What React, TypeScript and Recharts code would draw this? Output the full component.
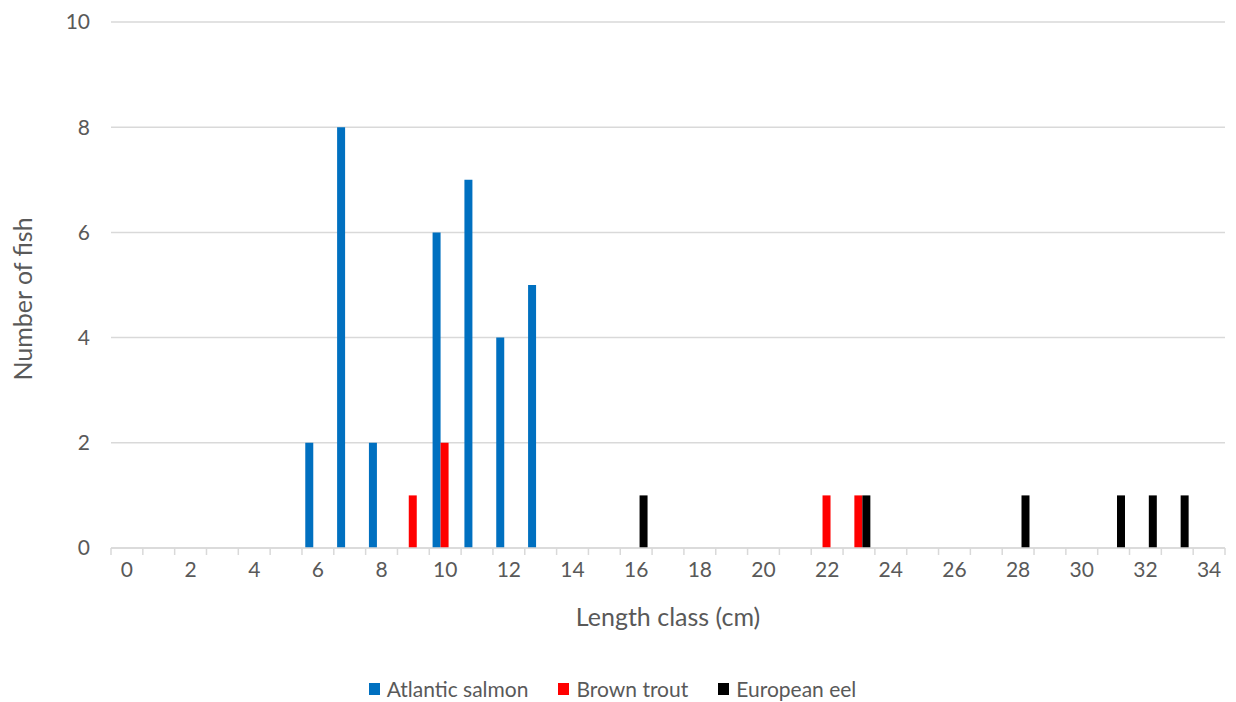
import React from "react";
import {
  BarChart,
  Bar,
  XAxis,
  YAxis,
  CartesianGrid,
  Legend,
} from "recharts";

// length classes (cm) and counts per species
const lengthClasses = [
  0, 1, 2, 3, 4, 5, 6, 7, 8, 9, 10, 11, 12, 13, 14, 15, 16, 17, 18, 19, 20,
  21, 22, 23, 24, 25, 26, 27, 28, 29, 30, 31, 32, 33, 34,
];
const atlanticSalmon = [
  0, 0, 0, 0, 0, 0, 2, 8, 2, 0, 6, 7, 4, 5, 0, 0, 0, 0, 0, 0, 0, 0, 0, 0, 0,
  0, 0, 0, 0, 0, 0, 0, 0, 0, 0,
];
const brownTrout = [
  0, 0, 0, 0, 0, 0, 0, 0, 0, 1, 2, 0, 0, 0, 0, 0, 0, 0, 0, 0, 0, 0, 1, 1, 0,
  0, 0, 0, 0, 0, 0, 0, 0, 0, 0,
];
const europeanEel = [
  0, 0, 0, 0, 0, 0, 0, 0, 0, 0, 0, 0, 0, 0, 0, 0, 1, 0, 0, 0, 0, 0, 0, 1, 0,
  0, 0, 0, 1, 0, 0, 1, 1, 1, 0,
];
const yTicks = [0, 2, 4, 6, 8, 10];

const data = lengthClasses.map((len, i) => ({
  len,
  salmon: atlanticSalmon[i],
  trout: brownTrout[i],
  eel: europeanEel[i],
}));

if (typeof document !== "undefined") document.body.style.margin = "0";

const W = 1236;
const H = 702;
const LEFT = 111;
const RIGHT = 11;
const BAND = (W - LEFT - RIGHT) / lengthClasses.length;
const FONT = "Lato, 'Open Sans', sans-serif";
const GREY = "#595959";
const LINE = "#d9d9d9";

// category axis: tick marks sit on the band edges, labels on every other class
const XTick = (props: any) => {
  const { x, y, index, payload } = props;
  const half = BAND / 2;
  const last = index === lengthClasses.length - 1;
  return (
    <g>
      <line x1={x - half} x2={x - half} y1={y} y2={y + 7} stroke={LINE} strokeWidth={1.5} />
      {last && (
        <line x1={x + half} x2={x + half} y1={y} y2={y + 7} stroke={LINE} strokeWidth={1.5} />
      )}
      {index % 2 === 0 && (
        <text x={x} y={y + 29} textAnchor="middle" fill={GREY} fontSize={21} fontFamily={FONT}>
          {payload.value}
        </text>
      )}
    </g>
  );
};

// y title sits a little below the middle of the plot, like the Excel original
const YTitle = (props: any) => {
  const { viewBox } = props;
  const cx = 22;
  const cy = viewBox.y + viewBox.height / 2 + 14;
  return (
    <text
      x={cx}
      y={cy}
      transform={`rotate(-90 ${cx} ${cy})`}
      textAnchor="middle"
      dominantBaseline="central"
      fill={GREY}
      fontSize={25}
      fontFamily={FONT}
    >
      Number of fish
    </text>
  );
};

const LegendContent = (props: any) => (
  <div
    style={{
      display: "flex",
      justifyContent: "center",
      gap: 30,
      fontFamily: FONT,
      fontSize: 21,
      color: GREY,
      paddingTop: 4,
    }}
  >
    {props.payload.map((item: any) => (
      <div key={item.value} style={{ display: "flex", alignItems: "center", gap: 7 }}>
        <div style={{ width: 11, height: 12, background: item.color }} />
        <span>{item.value}</span>
      </div>
    ))}
  </div>
);

export default function App() {
  return (
    <BarChart
      width={W}
      height={H}
      data={data}
      margin={{ top: 22, right: RIGHT, left: 0, bottom: 0 }}
      barCategoryGap={3.3}
      barGap={0}
    >
      <CartesianGrid vertical={false} stroke={LINE} strokeWidth={1.5} />
      <XAxis
        dataKey="len"
        interval={0}
        height={124}
        tickSize={0}
        tickMargin={0}
        tickLine={false}
        axisLine={{ stroke: LINE, strokeWidth: 1.5 }}
        tick={<XTick />}
        label={{
          value: "Length class (cm)",
          position: "insideTop",
          offset: 60,
          fill: GREY,
          fontSize: 25,
          fontFamily: FONT,
        }}
      />
      <YAxis
        width={LEFT}
        domain={[0, 10]}
        ticks={yTicks}
        tickLine={false}
        axisLine={false}
        tickSize={0}
        tickMargin={21}
        tick={{ fill: GREY, fontSize: 21, fontFamily: FONT }}
        label={<YTitle />}
      />
      <Legend verticalAlign="bottom" height={30} content={<LegendContent />} />
      <Bar dataKey="salmon" name="Atlantic salmon" fill="#0070C0" isAnimationActive={false} />
      <Bar dataKey="trout" name="Brown trout" fill="#FF0000" isAnimationActive={false} />
      <Bar dataKey="eel" name="European eel" fill="#000000" isAnimationActive={false} />
    </BarChart>
  );
}
